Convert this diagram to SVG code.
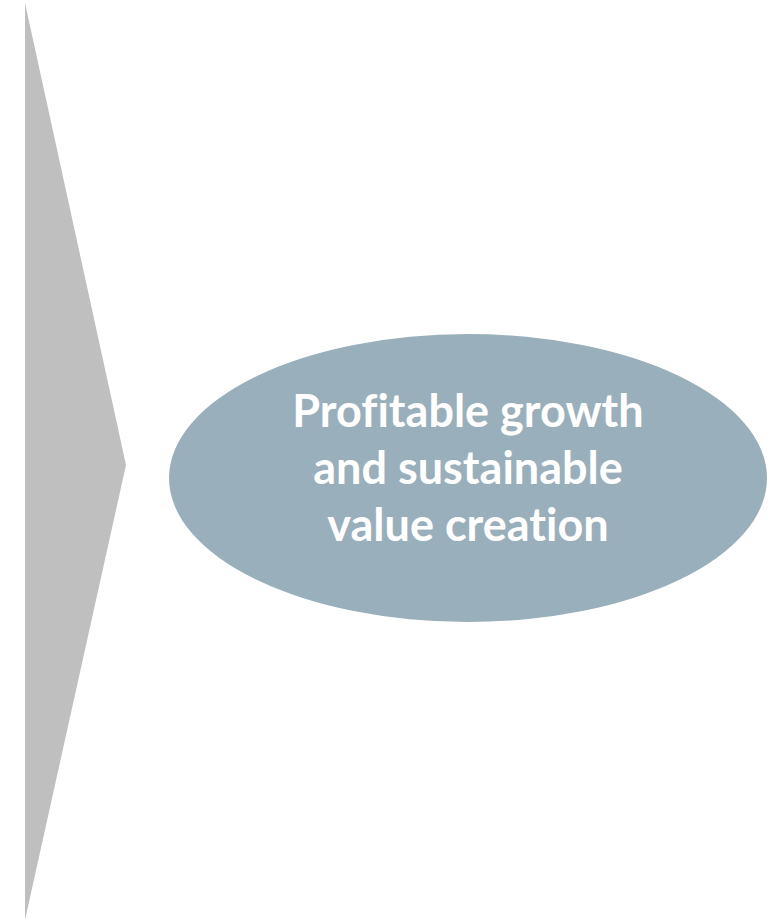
<svg xmlns="http://www.w3.org/2000/svg" width="774" height="920" viewBox="0 0 774 920">
  <style>
    .chevron { fill: #BFBFBF; }
    .goal { fill: #9AAFBC; }
    .goal-label { font-family: "Lato", "Open Sans", "Liberation Sans", sans-serif; font-weight: 700; font-size: 45px; fill: #FFFFFF; text-anchor: middle; font-variant-ligatures: none; }
  </style>
  <rect width="774" height="920" fill="#FFFFFF"/>
  <g id="arrow">
    <polygon class="chevron" points="25,3 126,465 25,920"/>
  </g>
  <g id="goal">
    <ellipse class="goal" cx="468" cy="478" rx="299" ry="144"/>
    <text class="goal-label" x="468" y="427">Profitable growth</text>
    <text class="goal-label" x="468" y="484">and sustainable</text>
    <text class="goal-label" x="468" y="541">value creation</text>
  </g>
</svg>
